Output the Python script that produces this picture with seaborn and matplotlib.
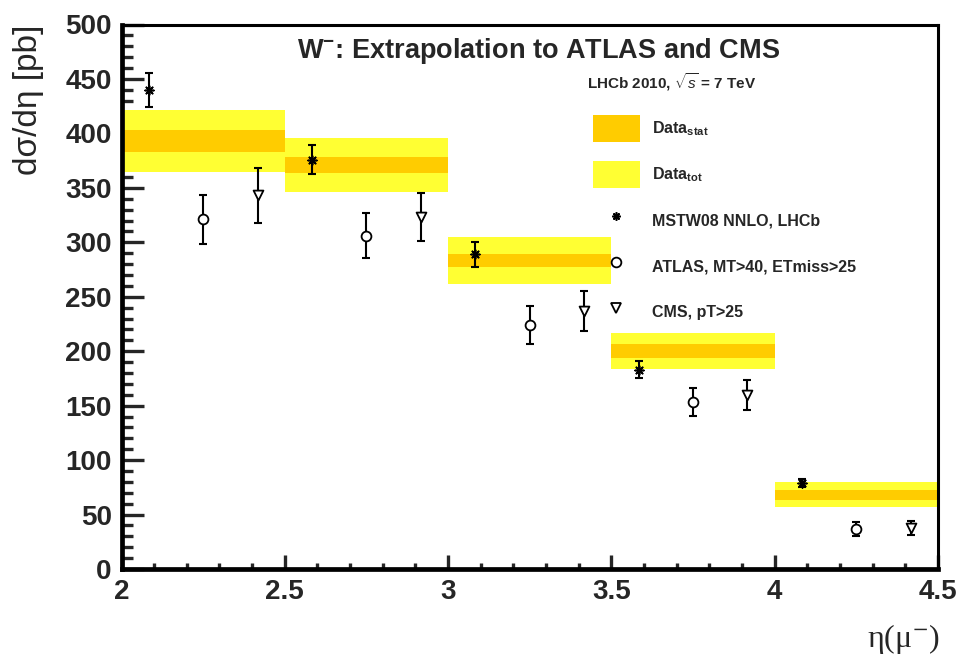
import numpy as np
import pandas as pd
import matplotlib
matplotlib.use("Agg")
import matplotlib.pyplot as plt
import seaborn as sns
from matplotlib.patches import Patch
from matplotlib.lines import Line2D

# ---------------- data ----------------
bin_lo = [2.0, 2.5, 3.0, 3.5, 4.0]
bin_hi = [2.5, 3.0, 3.5, 4.0, 4.5]
data_val = [393, 371, 283, 200, 68]
data_stat = [9.8, 7.6, 6.1, 6.2, 4.5]
data_tot = [28.4, 25.0, 21.6, 16.8, 11.5]

mstw_val = [440, 376, 289, 183, 79]
mstw_err = [15.5, 13.6, 11.5, 7.6, 3.7]
atlas_val = [321, 306, 224, 153, 37]
atlas_err = [22.5, 20.8, 17.4, 12.9, 6.4]
cms_val = [343, 323, 237, 160, 38]
cms_err = [25.0, 22.2, 18.2, 13.6, 6.4]

title = "W$^{\\mathbf{-}}$: Extrapolation to ATLAS and CMS"
subtitle = "LHCb 2010, $\\sqrt{s}$ = 7 TeV"
ylabel = "d\u03c3/d\u03b7 [pb]"
xlabel = "\u03b7(\u03bc$^{-}$)"
legend_labels = ["Data$_{\\mathbf{stat}}$", "Data$_{\\mathbf{tot}}$",
                 "MSTW08 NNLO, LHCb", "ATLAS, MT>40, ETmiss>25", "CMS, pT>25"]

# ---------------- style ----------------
sns.set_style("white")
plt.rcParams["font.family"] = ["Liberation Sans", "DejaVu Sans"]
plt.rcParams["mathtext.fontset"] = "custom"
plt.rcParams["mathtext.rm"] = "Liberation Sans"
plt.rcParams["mathtext.bf"] = "Liberation Sans:bold"
plt.rcParams["mathtext.it"] = "Liberation Sans:italic"

YELLOW = "#ffff33"
ORANGE = "#ffcc00"

W, H = 961, 656
fig = plt.figure(figsize=(W / 100, H / 100), dpi=100)
ax = fig.add_axes([121.5 / W, 1 - 569 / H, (938 - 121.5) / W, (569 - 24.5) / H])

lo = np.array(bin_lo)
width = np.array(bin_hi) - lo
val = np.array(data_val)
st = np.array(data_stat)
tot = np.array(data_tot)

ax.bar(lo, 2 * tot, bottom=val - tot, width=width, align="edge",
       color=YELLOW, linewidth=0, zorder=1)
ax.bar(lo, 2 * st, bottom=val - st, width=width, align="edge",
       color=ORANGE, linewidth=0, zorder=1)

off = {"mstw": 1 / 12, "atlas": 3 / 12, "cms": 5 / 12}
series = [
    ("mstw", mstw_val, mstw_err),
    ("atlas", atlas_val, atlas_err),
    ("cms", cms_val, cms_err),
]
rows = []
for name, v, e in series:
    for i in range(len(bin_lo)):
        rows.append({"series": name, "eta": bin_lo[i] + off[name],
                     "val": v[i], "err": e[i]})
df = pd.DataFrame(rows)

for name, _, _ in series:
    d = df[df.series == name]
    ax.errorbar(d.eta, d.val, yerr=d.err, fmt="none", ecolor="black",
                elinewidth=1.5, capsize=3.2, capthick=1.5, zorder=3)

STAR = (8, 2, 0)
sns.scatterplot(data=df[df.series == "mstw"], x="eta", y="val", ax=ax,
                marker=STAR, color="black", s=40, linewidth=1.2, zorder=4,
                legend=False)
sns.scatterplot(data=df[df.series == "atlas"], x="eta", y="val", ax=ax,
                marker="o", facecolor="white", edgecolor="black", s=50,
                linewidth=1.3, zorder=4, legend=False)
sns.scatterplot(data=df[df.series == "cms"], x="eta", y="val", ax=ax,
                marker="v", facecolor="white", edgecolor="black", s=50,
                linewidth=1.3, zorder=4, legend=False)

# ---------------- axes ----------------
ax.set_xlim(2, 4.5)
ax.set_ylim(0, 500)
ax.set_xticks(np.arange(2, 4.51, 0.5))
ax.set_xticklabels(["2", "2.5", "3", "3.5", "4", "4.5"])
ax.set_xticks(np.arange(2, 4.51, 0.1), minor=True)
ax.set_yticks(np.arange(0, 501, 50))
ax.set_yticks(np.arange(0, 501, 10), minor=True)

ax.tick_params(axis="y", which="major", direction="in", length=16, width=2.4,
               left=True, right=False, labelsize=20, pad=7)
ax.tick_params(axis="y", which="minor", direction="in", length=8, width=2.4,
               left=True, right=False)
ax.tick_params(axis="x", which="major", direction="in", length=10, width=2.4,
               bottom=True, top=False, labelsize=20, pad=7)
ax.tick_params(axis="x", which="minor", direction="in", length=4.5, width=2.4,
               bottom=True, top=False)
for lab in ax.get_xticklabels() + ax.get_yticklabels():
    lab.set_fontweight("bold")

for s in ["left", "bottom"]:
    ax.spines[s].set_linewidth(3.4)
for s in ["top", "right"]:
    ax.spines[s].set_linewidth(2.2)
for s in ax.spines.values():
    s.set_color("black")
    s.set_zorder(5)

ax.set_ylabel(ylabel, fontsize=24, loc="top")
ax.yaxis.set_label_coords((44 - 121.5) / (938 - 121.5), 1.0)
ax.set_xlabel(xlabel, fontsize=23, loc="right", family="Liberation Serif",
              math_fontfamily="stix")
ax.xaxis.set_label_coords(1.002, -(622 - 569) / (569 - 24.5))
ax.xaxis.label.set_va("top")

fig.text(539 / W, 1 - 51 / H, title, ha="center", va="center",
         fontsize=19.5, fontweight="bold")
fig.text(587 / W, 1 - 82 / H, subtitle, ha="left", va="center",
         fontsize=11, fontweight="bold")

handles = [
    Patch(facecolor=ORANGE, edgecolor="none", label=legend_labels[0]),
    Patch(facecolor=YELLOW, edgecolor="none", label=legend_labels[1]),
    Line2D([], [], marker=STAR, color="black", ls="none", ms=6, mew=1.2,
           label=legend_labels[2]),
    Line2D([], [], marker="o", mfc="white", mec="black", ls="none", ms=7,
           mew=1.3, label=legend_labels[3]),
    Line2D([], [], marker="v", mfc="white", mec="black", ls="none", ms=7,
           mew=1.3, label=legend_labels[4]),
]
LFS = 11.5
fs_px = LFS * 100 / 72
patch_h = 26.7
hh = (patch_h / fs_px - 0.245) / 0.65
ax.legend(handles=handles, loc="upper left",
          bbox_to_anchor=(593 / W, 1 - 115 / H), bbox_transform=fig.transFigure,
          frameon=False, borderpad=0, borderaxespad=0,
          handlelength=46.7 / fs_px, handleheight=hh,
          handletextpad=12 / fs_px, labelspacing=(46 - patch_h) / fs_px,
          prop={"family": "Liberation Sans", "weight": "bold", "size": LFS})

fig.savefig("out.png", dpi=100)
